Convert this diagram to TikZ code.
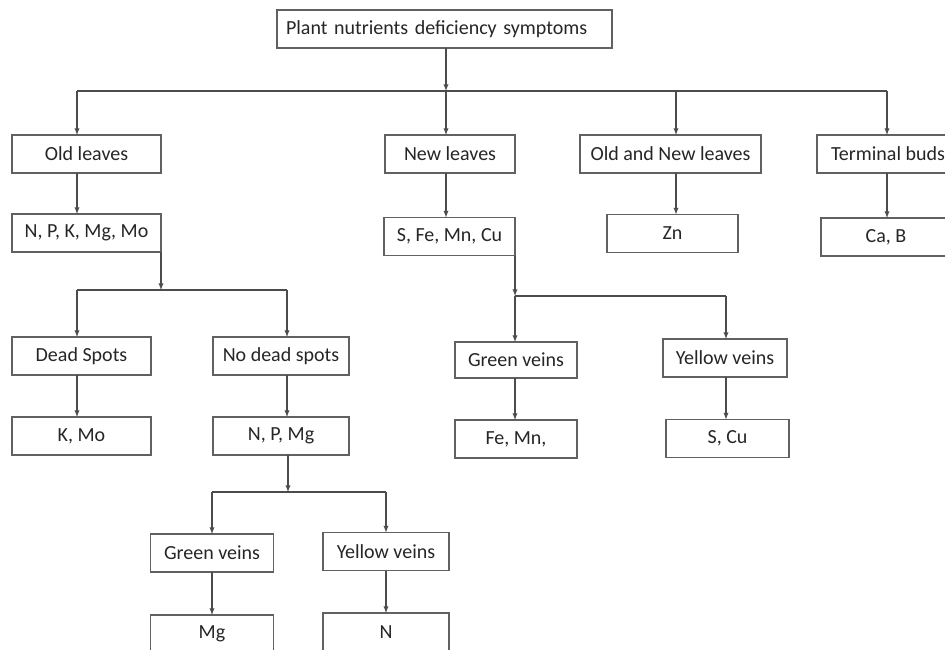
\documentclass[tikz,border=0pt]{standalone}
\usepackage{fontspec}
\setmainfont{Carlito}
\usetikzlibrary{positioning,calc}

\begin{document}
\begin{tikzpicture}[x=1pt,y=-1pt,
        block/.style={draw=black!62,line width=1.2pt,rectangle,minimum height=38pt,outer sep=0pt,
          inner sep=2pt,text=black!85,font=\fontsize{20}{24}\selectfont},
        line/.style={draw=black!70,line width=1.3pt},
        arr/.style={line,-latex}]
   \path[fill=white,use as bounding box] (0,0) rectangle (945,650);
   % boxes
   \node[block,text width=317,inner xsep=9,align=left] (A) at (444.5,29) {Plant nutrients deficiency symptoms};
   \node[block,minimum width=149] (B) at (86.5,154) {Old leaves};
   \node[block,minimum width=130] (C) at (450,154) {New leaves};
   \node[block,minimum width=181] (D) at (670.5,154) {Old and New leaves};
   \node[block,minimum width=142] (E) at (888,154) {Terminal buds};
   \node[block,minimum width=149] (F) at (86.5,233) {N, P, K, Mg, Mo};
   \node[block,minimum width=131] (G) at (449.5,236.5) {S, Fe, Mn, Cu};
   \node[block,minimum width=131] (H) at (672.5,233.5) {Zn};
   \node[block,minimum width=130] (I) at (886,237) {Ca, B};
   \node[block,minimum width=139] (J) at (81.5,356) {Dead Spots};
   \node[block,minimum width=136] (K) at (281,356) {No dead spots};
   \node[block,minimum width=122,minimum height=36] (L) at (516,360) {Green veins};
   \node[block,minimum width=124] (M) at (725,358) {Yellow veins};
   \node[block,minimum width=139] (N) at (81.5,436) {K, Mo};
   \node[block,minimum width=136] (O) at (281,436) {N, P, Mg};
   \node[block,minimum width=122] (P) at (516,439) {Fe, Mn,};
   \node[block,minimum width=123] (Q) at (727.5,438.5) {S, Cu};
   \node[block,minimum width=123] (R) at (212,553) {Green veins};
   \node[block,minimum width=126] (S) at (386,551.5) {Yellow veins};
   \node[block,minimum width=123] (T) at (212,634) {Mg};
   \node[block,minimum width=126] (U) at (386,632) {N};
   % junctions
   \coordinate (j0) at (446,91);
   \coordinate (j1) at (77,91);
   \coordinate (j2) at (676,91);
   \coordinate (j4) at (887,91);
   \coordinate (k0) at (161,290);
   \coordinate (k1) at (77,290);
   \coordinate (k2) at (287,290);
   \coordinate (m0) at (288,492);
   \coordinate (m1) at (212,492);
   \coordinate (m2) at (386,492);
   \coordinate (n0) at (515,296);
   \coordinate (n2) at (726,296);
   % first level
   \draw[arr] (j0 |- A.south) -- (j0);
   \draw[line] (j1) -- (j4);
   \draw[arr] (j1) -- (j1 |- B.north);
   \draw[arr] (j0) -- (j0 |- C.north);
   \draw[arr] (j2) -- (j2 |- D.north);
   \draw[arr] (j4) -- (j4 |- E.north);
   \draw[arr] (j1 |- B.south) -- (j1 |- F.north);
   \draw[arr] (j0 |- C.south) -- (j0 |- G.north);
   \draw[arr] (j2 |- D.south) -- (j2 |- H.north);
   \draw[arr] (j4 |- E.south) -- (j4 |- I.north);
   % old leaves
   \draw[arr] (F.south east) -- (k0);
   \draw[line] (k1) -- (k2);
   \draw[arr] (k1) -- (k1 |- J.north);
   \draw[arr] (k2) -- (k2 |- K.north);
   \draw[arr] (k1 |- J.south) -- (k1 |- N.north);
   \draw[arr] (k2 |- K.south) -- (k2 |- O.north);
   \draw[arr] (m0 |- O.south) -- (m0);
   \draw[line] (m1) -- (m2);
   \draw[arr] (m1) -- (m1 |- R.north);
   \draw[arr] (m2) -- (m2 |- S.north);
   \draw[arr] (m1 |- R.south) -- (m1 |- T.north);
   \draw[arr] (m2 |- S.south) -- (m2 |- U.north);
   % new leaves
   \draw[arr] (G.south east) -- (n0);
   \draw[line] (n0) -- (n2);
   \draw[arr] (n0) -- (n0 |- L.north);
   \draw[arr] (n2) -- (n2 |- M.north);
   \draw[arr] (n0 |- L.south) -- (n0 |- P.north);
   \draw[arr] (n2 |- M.south) -- (n2 |- Q.north);
\end{tikzpicture}
\end{document}
